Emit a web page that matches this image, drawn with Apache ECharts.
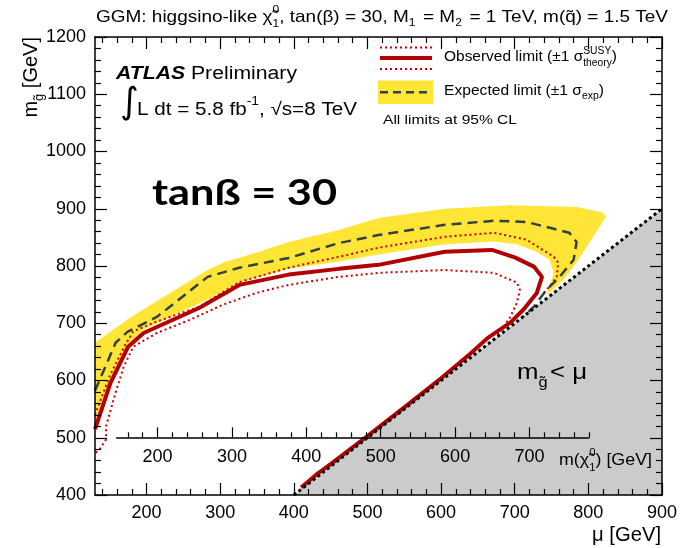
<!DOCTYPE html>
<html><head><meta charset="utf-8">
<script src="https://cdn.jsdelivr.net/npm/echarts@6/dist/echarts.min.js"></script>
<style>html,body{margin:0;padding:0;background:#fff}#c{width:681px;height:548px}</style>
</head><body><div id="c"></div>
<script>
// ---------------- data ----------------
const xTickLabels = [200, 300, 400, 500, 600, 700, 800, 900];
const yTickLabels = [400, 500, 600, 700, 800, 900, 1000, 1100, 1200];
const chiTickLabels = [200, 300, 400, 500, 600, 700];

const forbiddenRegion = [[400, 400], [900, 900], [900, 400]];
const kinematicEdge = [[400, 400], [900, 900]];

const expectedBandUpper = [[130,666],[178,710],[232,753],[283,793],[306,807],[349,823],[393,842],[461,863],[515,884],[605,900],[694,906],[784,903],[820,893],[824,886],[801,840],[784,806],[766,776],[747,753]];
const expectedBandLower = [[743,750],[747,764],[753,788],[747,811],[730,825],[703,838],[672,843],[605,838],[515,820],[461,808],[393,795],[326,771],[282,741],[196,689],[174,662],[151,601],[131,532],[130,515]];
const expectedLimit = [[130,582],[144,624],[158,666],[174,685],[214,711],[283,781],[326,797],[393,814],[461,840],[515,854],[605,872],[672,879],[716,877],[774,858],[784,842],[780,811],[761,781],[743,758],[726,729],[712,712]];
const observedLimit = [[130,515],[151,596],[175,659],[196,683],[272,727],[326,767],[393,785],[461,795],[515,802],[605,825],[669,828],[700,815],[726,799],[737,781],[730,753],[712,724],[694,701],[663,674],[640,647],[600,604],[550,553],[500,503],[450,454],[430,435],[410,413]];
const observedPlus1Sigma = [[130,540],[150,608],[170,660],[182,686],[214,703],[272,729],[326,772],[393,797],[461,816],[515,832],[605,851],[672,858],[716,846],[753,816],[759,806],[757,781],[747,764],[739,752]];
const observedMinus1Sigma = [[131,474],[137,481],[145,497],[145,520],[158,579],[169,624],[182,659],[214,683],[259,706],[303,732],[349,753],[393,767],[461,781],[515,788],[605,793],[672,788],[703,771],[707,758],[703,736],[694,711],[685,694],[676,680]];

// ---------------- helpers ----------------
const FONT = '"Liberation Sans", Arial, Helvetica, sans-serif';
const ctx = document.createElement('canvas').getContext('2d');
function tw(t, size, weight, style, family) {
  ctx.font = (style || 'normal') + ' ' + (weight || 'normal') + ' ' + size + 'px ' + (family || FONT);
  return ctx.measureText(t).width;
}
function txt(x, y, t, p) {
  return { type: 'text', x: x, y: y, silent: true, z: 50,
    style: { text: t, fontSize: p.size, fontFamily: p.family || FONT, fontWeight: p.weight || 'normal',
      fontStyle: p.style || 'normal', fill: p.color || '#000', align: 'left', verticalAlign: 'middle' } };
}
function run(pieces) {
  const els = []; let cx = 0;
  for (const p of pieces) {
    if (p.stack) {
      const w = Math.max(tw(p.stack[0], p.size), tw(p.stack[1], p.size));
      els.push(txt(cx, p.supDy, p.stack[0], p));
      els.push(txt(cx, p.subDy, p.stack[1], p));
      cx += w + (p.gap || 0);
    } else {
      els.push(txt(cx, p.dy || 0, p.t, p));
      cx += tw(p.t, p.size, p.weight, p.style, p.family) + (p.gap || 0);
    }
  }
  return { els: els, width: cx };
}
// place a text run; optional target width (horizontal fit), optional right alignment
function runAt(x, y, pieces, fitWidth, alignRight) {
  const r = run(pieces);
  const sx = fitWidth ? fitWidth / r.width : 1;
  const w = r.width * sx;
  return { type: 'group', x: alignRight ? x - w : x, y: y, scaleX: sx, children: r.els };
}

function range(a, b, s, skip) { const o = []; for (let v = a; v <= b + 1e-9; v += s) { if (!skip || v % skip !== 0) o.push(v); } return o; }
const xMinor = range(140, 880, 20, 100);
const chiMinor = range(160, 780, 20, 100);

const black = { color: '#000', width: 1.5 };
const tickStyle = { color: '#000', width: 1.2 };

function mainX(pos, labels) {
  return [
    { gridIndex: 0, type: 'value', position: pos, min: 130, max: 900, z: 10,
      axisLine: { show: true, onZero: false, lineStyle: black }, splitLine: { show: false },
      axisTick: { show: true, inside: true, length: 12, customValues: xTickLabels, lineStyle: tickStyle },
      axisLabel: labels ? { show: true, customValues: xTickLabels, fontFamily: FONT, fontSize: 18, color: '#000', margin: 9,
        formatter: function (v) { return String(v); } } : { show: false } },
    { gridIndex: 0, type: 'value', position: pos, min: 130, max: 900, z: 10,
      axisLine: { show: false }, splitLine: { show: false },
      axisTick: { show: true, inside: true, length: 6, customValues: xMinor, lineStyle: tickStyle },
      axisLabel: { show: false } }
  ];
}
function mainY(pos, labels) {
  return { gridIndex: 0, type: 'value', position: pos, min: 400, max: 1200, interval: 100, z: 10,
    axisLine: { show: true, onZero: false, lineStyle: black }, splitLine: { show: false },
    axisTick: { show: true, inside: true, length: 12, lineStyle: tickStyle },
    minorTick: { show: true, splitNumber: 5, length: 6, lineStyle: tickStyle },
    axisLabel: labels ? { show: true, customValues: yTickLabels, fontFamily: FONT, fontSize: 18, color: '#000', margin: 9,
      formatter: function (v) { return String(v); } } : { show: false } };
}

function polygon(name, pts, color, z) {
  return { type: 'custom', name: name, xAxisIndex: 0, yAxisIndex: 0, z: z, silent: true, clip: true,
    data: pts, encode: { x: 0, y: 1 },
    renderItem: function (params, api) {
      if (params.dataIndex !== 0) return null;
      return { type: 'polygon', shape: { points: pts.map(function (p) { return api.coord(p); }) }, style: { fill: color } };
    } };
}
function curve(name, pts, color, width, type, z) {
  return { type: 'line', name: name, xAxisIndex: 0, yAxisIndex: 0, data: pts, showSymbol: false, symbol: 'none',
    silent: true, z: z, lineStyle: { color: color, width: width, type: type, cap: 'butt' } };
}

const RED = '#b30000', RED2 = '#cc0000', YEL = '#ffe535', DASH = '#334044';

// ---------------- texts ----------------
const graphics = [
  runAt(96, 17, [
    { t: 'GGM: higgsino-like \u03C7\u0303', size: 16.5 },
    { stack: ['0', '1'], size: 10.5, supDy: -7, subDy: 7 },
    { t: ', tan(\u03B2) = 30, M', size: 16.5 }, { t: '1', size: 10.5, dy: 6, gap: 2 },
    { t: ' = M', size: 16.5 }, { t: '2', size: 10.5, dy: 6, gap: 2 },
    { t: ' = 1 TeV, m(q\u0303) = 1.5 TeV', size: 16.5 }
  ], 572),
  runAt(116, 74, [
    { t: 'ATLAS', size: 18, weight: 'bold', style: 'italic' },
    { t: ' Preliminary', size: 18 }
  ], 181),
  runAt(120, 104, [{ t: '\u222B', size: 36, family: '"DejaVu Sans", sans-serif' }]),
  runAt(137, 110, [
    { t: 'L dt = 5.8 fb', size: 18 }, { t: '-1', size: 12, dy: -8 },
    { t: ', \u221As=8 TeV', size: 18 }
  ], 220),
  runAt(152, 193, [{ t: 'tan\u00DF = 30', size: 36, weight: 'bold', family: 'Lato, "Open Sans", sans-serif' }], 185),
  runAt(517, 373, [
    { t: 'm', size: 22 }, { t: 'g\u0303', size: 14, dy: 10, gap: 2 }, { t: '< \u03BC', size: 22 }
  ], 70),
  runAt(559, 460, [
    { t: 'm(\u03C7\u0303', size: 16.5 }, { stack: ['0', '1'], size: 10.5, supDy: -7, subDy: 8 }, { t: ') [GeV]', size: 16.5 }
  ], 93),
  runAt(661, 535, [{ t: '\u03BC [GeV]', size: 20 }], 69, true),
  // legend samples
  { type: 'rect', shape: { x: 378, y: 80.5, width: 55, height: 23.5 }, style: { fill: YEL }, silent: true },
  { type: 'line', shape: { x1: 380, y1: 92.3, x2: 432, y2: 92.3 }, style: { stroke: DASH, lineWidth: 2.5, lineDash: [8, 5] }, silent: true },
  { type: 'line', shape: { x1: 380, y1: 47.5, x2: 432, y2: 47.5 }, style: { stroke: RED2, lineWidth: 2, lineDash: [2, 3] }, silent: true },
  { type: 'line', shape: { x1: 380, y1: 58, x2: 432, y2: 58 }, style: { stroke: RED, lineWidth: 4 }, silent: true },
  { type: 'line', shape: { x1: 380, y1: 69, x2: 432, y2: 69 }, style: { stroke: RED2, lineWidth: 2, lineDash: [2, 3] }, silent: true },
  runAt(444, 57, [
    { t: 'Observed limit (\u00B11 \u03C3', size: 15 }, { stack: ['SUSY', 'theory'], size: 10, supDy: -6, subDy: 6 }, { t: ')', size: 15 }
  ], 173),
  runAt(444, 91, [
    { t: 'Expected limit (\u00B11 \u03C3', size: 15 }, { t: 'exp', size: 10, dy: 5 }, { t: ')', size: 15 }
  ], 160),
  runAt(383, 120, [{ t: 'All limits at 95% CL', size: 13 }], 134)
];
// rotated y title
(function () {
  const r = run([{ t: 'm', size: 20 }, { t: 'g\u0303', size: 13, dy: 8 }, { t: ' [GeV]', size: 20 }]);
  graphics.push({ type: 'group', x: 31, y: 37 + r.width, rotation: Math.PI / 2, children: r.els });
})();

// ---------------- chart ----------------
const chart = echarts.init(document.getElementById('c'), null, { renderer: 'canvas' });
chart.setOption({
  animation: false,
  backgroundColor: '#fff',
  grid: [
    { left: 95, top: 37, right: 19, bottom: 53, containLabel: false, outerBoundsMode: 'none' },
    { left: 116.7, top: 37, width: 472.3, height: 400.3, containLabel: false, outerBoundsMode: 'none' }
  ],
  xAxis: [].concat(
    mainX('bottom', true),
    mainX('top', false),
    [
      { gridIndex: 1, type: 'value', position: 'bottom', min: 145, max: 780, z: 11,
        axisLine: { show: true, onZero: false, lineStyle: black }, splitLine: { show: false },
        axisTick: { show: true, inside: true, length: 10, customValues: chiTickLabels, lineStyle: tickStyle },
        axisLabel: { show: true, customValues: chiTickLabels, fontFamily: FONT, fontSize: 18, color: '#000', margin: 11 } },
      { gridIndex: 1, type: 'value', position: 'bottom', min: 145, max: 780, z: 11,
        axisLine: { show: false }, splitLine: { show: false },
        axisTick: { show: true, inside: true, length: 5, customValues: chiMinor, lineStyle: tickStyle },
        axisLabel: { show: false } }
    ]
  ),
  yAxis: [
    mainY('left', true),
    mainY('right', false),
    { gridIndex: 1, type: 'value', min: 0, max: 1, show: false }
  ],
  series: [
    polygon('m_g < mu', forbiddenRegion, '#cbcbcb', 1),
    polygon('Expected \u00B11\u03C3', expectedBandUpper.concat(expectedBandLower), YEL, 2),
    curve('Observed +1\u03C3', observedPlus1Sigma, RED2, 2, [2, 3], 4),
    curve('Observed -1\u03C3', observedMinus1Sigma, RED2, 2, [2, 3], 4),
    curve('Expected limit', expectedLimit, DASH, 2.5, [10, 6], 5),
    curve('Observed limit', observedLimit, RED, 4, 'solid', 6),
    curve('m_g = mu', kinematicEdge, '#000', 3, [3, 3], 7)
  ],
  graphic: graphics
});
</script></body></html>
